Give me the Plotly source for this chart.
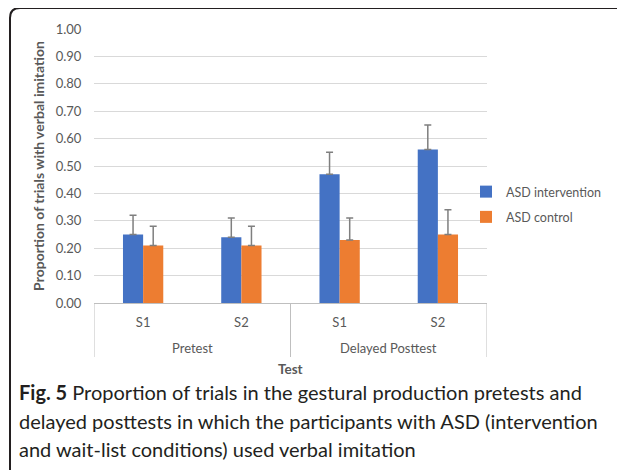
import plotly.graph_objects as go

tests = ["Pretest", "Pretest", "Delayed Posttest", "Delayed Posttest"]
sessions = ["S1", "S2", "S1", "S2"]
intervention = [0.25, 0.24, 0.47, 0.56]
intervention_err = [0.07, 0.07, 0.08, 0.09]
control = [0.21, 0.21, 0.23, 0.25]
control_err = [0.07, 0.07, 0.08, 0.09]
y_ticks = [0.0, 0.1, 0.2, 0.3, 0.4, 0.5, 0.6, 0.7, 0.8, 0.9, 1.0]
caption_lines = [
    "<b>Fig. 5</b> Proportion of trials in the gestural production pretests and",
    "delayed posttests in which the participants with ASD (intervention",
    "and wait-list conditions) used verbal imitation",
]

FONT = "Lato"
OFF = 8  # the page body has an 8px margin; positions below are window pixels
W, H = 625 - OFF, 470 - OFF
L, R, T, B = 94 - OFF, 487 - OFF, 29 - OFF, 303 - OFF
GRAY = "#595959"
LINE = "#bfbfbf"

def px(x):
    return (x - OFF - L) / (R - L)

def py(y):
    return (B - (y - OFF)) / (B - T)

pos = list(range(len(sessions)))

fig = go.Figure()
fig.add_trace(go.Bar(
    x=pos, y=intervention, name="ASD intervention",
    marker=dict(color="#4472C4", line=dict(width=0)),
    error_y=dict(type="data", array=intervention_err, arrayminus=[0] * len(pos), symmetric=False,
                 color="#7f7f7f", thickness=1.5, width=3.5),
    legendgroup="a",
))
fig.add_trace(go.Bar(
    x=pos, y=control, name="ASD control",
    marker=dict(color="#ED7D31", line=dict(width=0)),
    error_y=dict(type="data", array=control_err, arrayminus=[0] * len(pos), symmetric=False,
                 color="#7f7f7f", thickness=1.5, width=3.5),
    legendgroup="b",
))

# group dividers and group labels on the category axis
groups = []
for i, t in enumerate(tests):
    if not groups or groups[-1][0] != t:
        groups.append([t, i, i])
    else:
        groups[-1][2] = i
bounds = sorted({g[1] - 0.5 for g in groups} | {g[2] + 0.5 for g in groups})
for b in bounds:
    fig.add_shape(type="line", xref="x", yref="paper", x0=b, x1=b, y0=0, y1=py(357),
                  line=dict(color=LINE, width=1))
for name, i0, i1 in groups:
    fig.add_annotation(text=name, xref="x", yref="paper", x=(i0 + i1) / 2, y=py(348),
                       xanchor="center", yanchor="middle", showarrow=False,
                       font=dict(family=FONT, size=13, color=GRAY))
fig.add_annotation(text="<b>Test</b>", xref="paper", yref="paper", x=0.5, y=py(369),
                   xanchor="center", yanchor="middle", showarrow=False,
                   font=dict(family=FONT, size=13.5, color=GRAY))

# rounded frame
r = 10
path = (f"M{px(10)},{py(475)} L{px(10)},{py(8 + r)} "
        f"Q{px(10)},{py(8)} {px(10 + r)},{py(8)} L{px(630)},{py(8)}")
fig.add_shape(type="path", path=path, xref="paper", yref="paper",
              line=dict(color="#231f20", width=2))

for line, yc in zip(caption_lines, [392, 421, 449]):
    fig.add_annotation(text=line, xref="paper", yref="paper", x=px(17), y=py(yc),
                       xanchor="left", yanchor="middle", align="left", showarrow=False,
                       font=dict(family=FONT, size=20, color="#231f20"))

fig.update_layout(
    width=W, height=H,
    margin=dict(l=L, r=W - R, t=T, b=H - B, pad=0),
    paper_bgcolor="white", plot_bgcolor="white",
    barmode="group", bargap=0.59, bargroupgap=0,
    font=dict(family=FONT, size=13, color=GRAY),
    legend=dict(x=px(466), y=py(177), xanchor="left", yanchor="top",
                font=dict(family=FONT, size=12.5, color=GRAY),
                tracegroupgap=6, traceorder="grouped", bgcolor="rgba(0,0,0,0)"),
    showlegend=True,
)
fig.update_yaxes(
    range=[0, 1.0], tickvals=y_ticks, tickformat=".2f", automargin=False,
    showgrid=True, gridcolor="#d9d9d9", gridwidth=1,
    zeroline=False, showline=False,
    ticks="outside", ticklen=9, tickcolor="rgba(0,0,0,0)",
    tickfont=dict(family=FONT, size=13, color=GRAY),
    title=dict(text="<b>Proportion of trials with verbal imitation</b>", standoff=7,
               font=dict(family=FONT, size=14, color=GRAY)),
)
fig.update_xaxes(
    range=[-0.5, len(pos) - 0.5], tickvals=pos, ticktext=sessions, automargin=False,
    showline=True, linecolor=LINE, linewidth=1,
    ticks="outside", ticklen=7, tickcolor="rgba(0,0,0,0)", showgrid=False, zeroline=False,
    tickfont=dict(family=FONT, size=13, color=GRAY),
)

fig.write_html("out.html")
